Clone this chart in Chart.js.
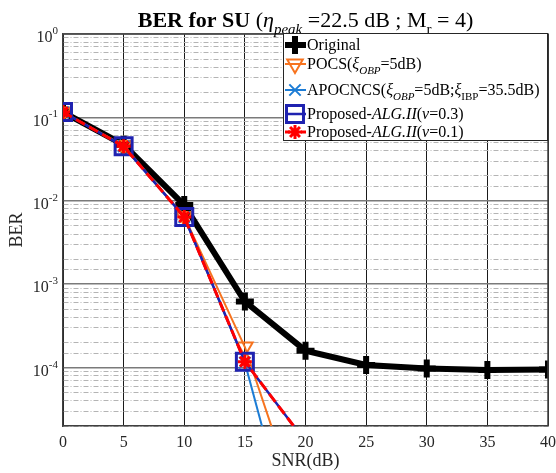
<!DOCTYPE html>
<html>
<head>
<meta charset="utf-8">
<script src="https://cdn.jsdelivr.net/npm/chart.js@4.4.1/dist/chart.umd.min.js"></script>
<style>
  body { margin: 0; background: #fff; }
</style>
</head>
<body>
<canvas id="ber" width="556" height="473"></canvas>
<script>
// SNR (dB) grid and axis ticks
const snr = [0, 5, 10, 15, 20, 25, 30, 35, 40];
const yDecades = [0, -1, -2, -3, -4];

// BER values
const berOriginal = [0.116, 0.047, 0.0089, 6.2e-4, 1.6e-4, 1.08e-4, 9.8e-5, 9.4e-5, 9.5e-5];
const berPocs     = [0.116, 0.046, 0.0065, 1.77e-4, 1.2e-6];
const berApocncs  = [0.116, 0.045, 0.0064, 1.15e-4, 2.3e-7];
const berProp03   = [0.116, 0.045, 0.0064, 1.18e-4, 1.3e-5];
const berProp01   = [0.116, 0.045, 0.0064, 1.18e-4, 1.3e-5];

const FONT = '"Liberation Serif", "Times New Roman", serif';

function pts(vals) {
  return vals.map((v, i) => ({ x: snr[i], y: v }));
}

function isMajor(v) {
  const l = Math.log10(v);
  return Math.abs(l - Math.round(l)) < 1e-6;
}

const datasets = [
  {
    label: 'Original', data: pts(berOriginal), order: 5,
    borderColor: '#000', borderWidth: 6,
    pointStyle: 'cross', pointRadius: 9, pointBorderWidth: 6,
    pointBorderColor: '#000', pointBackgroundColor: '#000'
  },
  {
    label: 'POCS', data: pts(berPocs), order: 4,
    borderColor: '#f7731e', borderWidth: 2,
    pointStyle: 'triangle', pointRotation: 180, pointRadius: 9, pointBorderWidth: 2,
    pointBorderColor: '#f7731e', pointBackgroundColor: 'rgba(0,0,0,0)'
  },
  {
    label: 'APOCNCS', data: pts(berApocncs), order: 3,
    borderColor: '#1c7cd5', borderWidth: 2,
    pointStyle: 'crossRot', pointRadius: 8, pointBorderWidth: 2,
    pointBorderColor: '#1c7cd5', pointBackgroundColor: 'rgba(0,0,0,0)'
  },
  {
    label: 'Proposed 0.3', data: pts(berProp03), order: 2,
    borderColor: '#1f22b0', borderWidth: 2.5,
    pointStyle: 'rect', pointRadius: 12, pointBorderWidth: 3,
    pointBorderColor: '#1f22b0', pointBackgroundColor: 'rgba(0,0,0,0)'
  },
  {
    label: 'Proposed 0.1', data: pts(berProp01), order: 1,
    borderColor: '#ff0000', borderWidth: 3, borderDash: [10, 5],
    pointStyle: 'star', pointRadius: 7, pointBorderWidth: 3,
    pointBorderColor: '#ff0000', pointBackgroundColor: '#ff0000'
  }
];

// draw a row of text pieces with sub/italic/bold styles
function drawRich(ctx, pieces, x, y, size) {
  const sub = Math.round(size * 0.7);
  for (const [txt, st] of pieces) {
    let f, dy = 0;
    if (st === 'b') f = 'bold ' + size + 'px ' + FONT;
    else if (st === 'i') f = 'italic ' + size + 'px ' + FONT;
    else if (st === 'si') { f = 'italic ' + sub + 'px ' + FONT; dy = size * 0.3; }
    else if (st === 'sn') { f = sub + 'px ' + FONT; dy = size * 0.3; }
    else f = size + 'px ' + FONT;
    ctx.font = f;
    ctx.fillText(txt, x, y + dy);
    x += ctx.measureText(txt).width;
  }
  return x;
}
function richWidth(ctx, pieces, size) {
  ctx.save();
  ctx.globalAlpha = 0;
  const w = drawRich(ctx, pieces, 0, -100, size);
  ctx.restore();
  return w;
}

const titlePieces = [
  ['BER for SU ', 'b'], ['(', 'n'], ['\u03b7', 'i'], ['peak', 'si'],
  [' =22.5 dB ; M', 'n'], ['r', 'sn'], [' = 4)', 'n']
];

const legendRows = [
  [['Original', 'n']],
  [['POCS(', 'n'], ['\u03be', 'i'], ['OBP', 'si'], ['=5dB)', 'n']],
  [['APOCNCS(', 'n'], ['\u03be', 'i'], ['OBP', 'si'], ['=5dB;', 'n'], ['\u03be', 'i'], ['IBP', 'sn'], ['=35.5dB)', 'n']],
  [['Proposed-', 'n'], ['ALG.II', 'i'], ['(', 'n'], ['\u03bd', 'i'], ['=0.3)', 'n']],
  [['Proposed-', 'n'], ['ALG.II', 'i'], ['(', 'n'], ['\u03bd', 'i'], ['=0.1)', 'n']]
];
const legendRowY = [45, 64, 90, 114, 132];

const decorPlugin = {
  id: 'decor',
  afterDraw(chart) {
    const ctx = chart.ctx;
    const a = chart.chartArea;
    const ys = chart.scales.y;
    ctx.save();

    // box top/right
    ctx.strokeStyle = '#404040';
    ctx.lineWidth = 1.5;
    ctx.beginPath();
    ctx.moveTo(a.left, a.top);
    ctx.lineTo(a.right, a.top);
    ctx.lineTo(a.right, a.bottom);
    ctx.stroke();

    // y tick labels 10^n
    ctx.fillStyle = '#262626';
    ctx.textBaseline = 'middle';
    for (const d of yDecades) {
      const py = ys.getPixelForValue(Math.pow(10, d));
      const exp = d === 0 ? '0' : '-' + Math.abs(d);
      ctx.font = '11px ' + FONT;
      const ew = ctx.measureText(exp).width;
      ctx.font = '16px ' + FONT;
      const bw = ctx.measureText('10').width;
      const right = a.left - 5;
      ctx.fillText('10', right - ew - bw, py + 4);
      ctx.font = '11px ' + FONT;
      ctx.fillText(exp, right - ew, py - 3);
    }

    // title
    ctx.textBaseline = 'alphabetic';
    ctx.fillStyle = '#000';
    const tw = richWidth(ctx, titlePieces, 22);
    drawRich(ctx, titlePieces, (a.left + a.right) / 2 - tw / 2, 27, 22);

    // legend
    const lx = 283, ly = a.top - 1, lw = a.right - lx, lh = 108;
    ctx.fillStyle = '#fff';
    ctx.fillRect(lx, ly, lw, lh);
    ctx.strokeStyle = '#262626';
    ctx.lineWidth = 1;
    ctx.strokeRect(lx + 0.5, ly + 0.5, lw - 1, lh - 1);
    datasets.forEach((ds, i) => {
      const y = legendRowY[i];
      ctx.save();
      ctx.strokeStyle = ds.borderColor;
      ctx.lineWidth = ds.borderWidth;
      ctx.setLineDash(ds.borderDash ? [5, 3] : []);
      ctx.beginPath();
      ctx.moveTo(lx + 2, y);
      ctx.lineTo(lx + 23, y);
      ctx.stroke();
      ctx.setLineDash([]);
      ctx.strokeStyle = ds.pointBorderColor;
      ctx.fillStyle = ds.pointBackgroundColor;
      ctx.lineWidth = ds.pointBorderWidth;
      Chart.helpers.drawPoint(ctx, {
        pointStyle: ds.pointStyle, rotation: ds.pointRotation || 0,
        radius: ds.pointRadius, borderWidth: ds.pointBorderWidth
      }, lx + 12, y);
      ctx.restore();
      ctx.fillStyle = '#000';
      drawRich(ctx, legendRows[i], lx + 24, y + 5, 16);
    });
    ctx.restore();
  }
};

new Chart(document.getElementById('ber'), {
  type: 'line',
  data: { datasets: datasets },
  options: {
    responsive: false,
    animation: false,
    layout: { autoPadding: false, padding: { top: 34, right: 8, left: 0, bottom: 0 } },
    plugins: { legend: { display: false }, title: { display: false }, tooltip: { enabled: false } },
    scales: {
      x: {
        type: 'linear', min: 0, max: 40,
        afterFit: (s) => { s.height = 47; s.paddingLeft = 0; s.paddingRight = 0; },
        ticks: { stepSize: 5, color: '#262626', padding: 7, font: { family: FONT, size: 16 } },
        grid: { color: '#1a1a1a', lineWidth: 1, drawTicks: false },
        border: { color: '#404040', width: 1.5 },
        title: { display: true, text: 'SNR(dB)', color: '#262626', padding: { top: 0, bottom: 1 }, font: { family: FONT, size: 18 } }
      },
      y: {
        type: 'logarithmic', min: 2e-5, max: 1,
        afterFit: (s) => { s.width = 63; },
        ticks: { display: false, autoSkip: false },
        grid: {
          drawTicks: false,
          color: (c) => (c.tick && isMajor(c.tick.value)) ? '#7a7a7a' : '#b4b4b4',
          lineWidth: (c) => (c.tick && isMajor(c.tick.value)) ? 1.6 : 1
        },
        border: {
          color: '#404040', width: 1.5,
          dash: (c) => (c.tick && !isMajor(c.tick.value)) ? [5, 2, 1, 2] : []
        },
        title: { display: true, text: 'BER', color: '#262626', padding: { top: 6, bottom: 4 }, font: { family: FONT, size: 18 } }
      }
    }
  },
  plugins: [decorPlugin]
});
</script>
</body>
</html>
